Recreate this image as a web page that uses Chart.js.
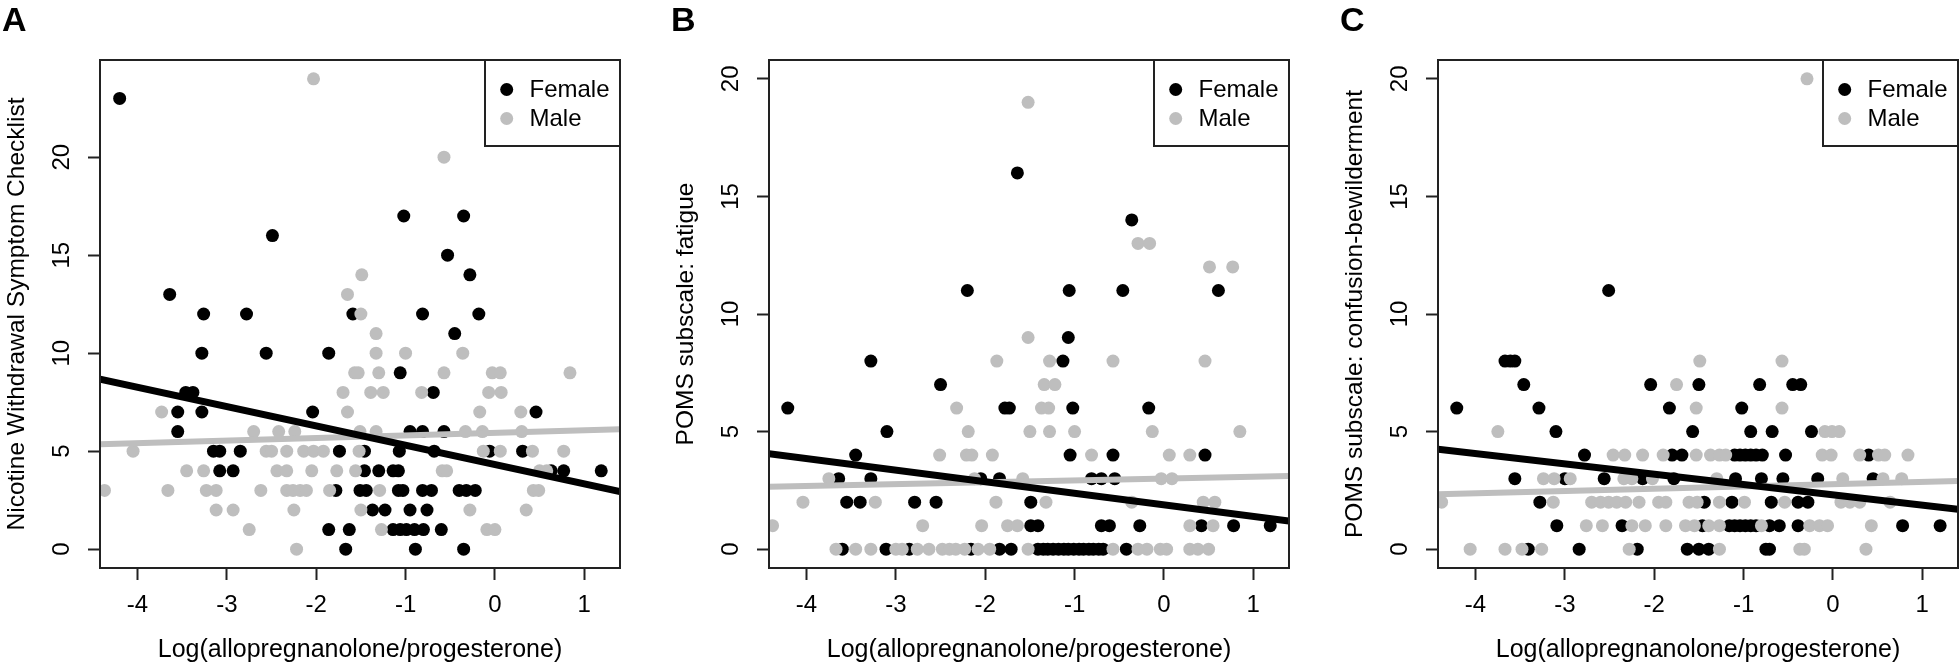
<!DOCTYPE html>
<html>
<head>
<meta charset="utf-8">
<script src="https://cdn.jsdelivr.net/npm/chart.js@4"></script>
<style>
    html, body { margin: 0; padding: 0; background: #fff; overflow: hidden; }
    body { position: relative; width: 1960px; height: 667px; }
    canvas { position: absolute; top: 0; }
</style>
</head>
<body>
<canvas id="chartA" width="660" height="667" style="left:-20px"></canvas>
<canvas id="chartB" width="660" height="667" style="left:649px"></canvas>
<canvas id="chartC" width="660" height="667" style="left:1318px"></canvas>
<script>
// Values: [log ratio, score]
const xTicks = [-4, -3, -2, -1, 0, 1];
const yTicks = [0, 5, 10, 15, 20];
const xTitle = 'Log(allopregnanolone/progesterone)';
const seriesLabels = ['Female', 'Male'];

// A: Nicotine Withdrawal Symptom Checklist
const femaleA = [
    [-4.20, 23], [-2.49, 16], [-3.64, 13], [-3.26, 12], [-2.78, 12], [-1.02, 17], [-0.35, 17], [-0.53, 15], [-0.28, 14],
    [-1.59, 12], [-0.81, 12], [-0.18, 12], [-0.45, 11],
    [-3.28, 10], [-2.56, 10], [-1.86, 10], [-1.06, 9],
    [-3.46, 8], [-3.38, 8], [-0.69, 8],
    [-3.55, 7], [-3.28, 7], [-2.04, 7], [0.46, 7],
    [-3.55, 6], [-0.95, 6], [-0.81, 6], [-0.57, 6],
    [-3.15, 5], [-3.08, 5], [-2.85, 5], [-1.74, 5], [-1.46, 5], [-1.07, 5], [-0.68, 5], [-0.06, 5], [0.31, 5],
    [-3.08, 4], [-2.93, 4], [-1.46, 4], [-1.30, 4], [-1.14, 4], [-1.08, 4], [0.63, 4], [0.77, 4], [1.19, 4],
    [-1.78, 3], [-1.51, 3], [-1.44, 3], [-1.08, 3], [-1.03, 3], [-0.81, 3], [-0.71, 3], [-0.40, 3], [-0.32, 3], [-0.22, 3],
    [-1.37, 2], [-1.23, 2], [-0.95, 2], [-0.76, 2],
    [-1.86, 1], [-1.63, 1], [-1.14, 1], [-1.06, 1], [-0.99, 1], [-0.90, 1], [-0.80, 1], [-0.60, 1],
    [-1.67, 0], [-0.89, 0], [-0.35, 0]
];
const maleA = [
    [-2.03, 24], [-0.57, 20], [-1.49, 14], [-1.65, 13], [-1.50, 12], [-1.33, 11],
    [-1.33, 10], [-1.00, 10], [-0.36, 10],
    [-1.57, 9], [-1.53, 9], [-1.30, 9], [-0.57, 9], [-0.03, 9], [0.06, 9], [0.84, 9],
    [-1.70, 8], [-1.39, 8], [-1.25, 8], [-0.82, 8], [-0.07, 8], [0.07, 8],
    [-3.73, 7], [-1.65, 7], [-0.17, 7], [0.29, 7],
    [-2.70, 6], [-2.42, 6], [-2.24, 6], [-1.51, 6], [-1.33, 6], [-0.33, 6], [-0.14, 6], [0.30, 6],
    [-4.05, 5], [-2.56, 5], [-2.50, 5], [-2.33, 5], [-2.14, 5], [-2.03, 5], [-1.92, 5], [-1.52, 5], [-0.13, 5], [0.06, 5], [0.42, 5], [0.77, 5],
    [-3.45, 4], [-3.26, 4], [-2.44, 4], [-2.33, 4], [-2.05, 4], [-1.77, 4], [-1.56, 4], [-0.59, 4], [-0.54, 4], [0.50, 4], [0.58, 4],
    [-4.37, 3], [-3.66, 3], [-3.23, 3], [-3.12, 3], [-2.62, 3], [-2.33, 3], [-2.26, 3], [-2.18, 3], [-2.11, 3], [-1.85, 3], [-1.29, 3], [0.43, 3], [0.49, 3],
    [-3.12, 2], [-2.93, 2], [-2.25, 2], [-1.50, 2], [-0.28, 2], [0.35, 2],
    [-2.75, 1], [-1.27, 1], [-0.09, 1], [0.00, 1],
    [-2.22, 0]
];
const fitFemaleA = [[-4.42, 8.67], [1.40, 2.94]];
const fitMaleA = [[-4.42, 5.36], [1.40, 6.12]];

// B: POMS fatigue
const femaleB = [
    [-2.20, 11], [-1.64, 16], [-0.36, 14], [-1.06, 11], [-0.46, 11], [0.61, 11], [-1.07, 9],
    [-3.28, 8], [-1.13, 8], [-2.50, 7],
    [-4.21, 6], [-1.78, 6], [-1.73, 6], [-1.02, 6], [-0.17, 6],
    [-3.10, 5],
    [-3.45, 4], [-1.05, 4], [-0.57, 4], [0.46, 4],
    [-3.64, 3], [-3.28, 3], [-2.05, 3], [-1.84, 3], [-0.81, 3], [-0.70, 3], [-0.55, 3],
    [-3.55, 2], [-3.40, 2], [-2.79, 2], [-2.55, 2], [-1.49, 2],
    [-1.49, 1], [-1.41, 1], [-0.70, 1], [-0.61, 1], [-0.27, 1], [0.42, 1], [0.78, 1], [1.19, 1],
    [-3.60, 0], [-3.11, 0], [-2.85, 0], [-2.16, 0], [-1.84, 0], [-1.71, 0], [-1.41, 0], [-1.35, 0], [-1.30, 0], [-1.24, 0],
    [-1.18, 0], [-1.12, 0], [-1.07, 0], [-1.01, 0], [-0.95, 0], [-0.90, 0], [-0.84, 0], [-0.79, 0], [-0.73, 0], [-0.68, 0], [-0.42, 0]
];
const maleB = [
    [-1.52, 19], [-0.29, 13], [-0.16, 13], [0.51, 12], [0.77, 12], [-1.52, 9],
    [-1.87, 8], [-1.28, 8], [-0.57, 8], [0.46, 8],
    [-1.34, 7], [-1.22, 7],
    [-2.32, 6], [-1.37, 6], [-1.29, 6],
    [-2.19, 5], [-1.50, 5], [-1.28, 5], [-1.00, 5], [-0.13, 5], [0.85, 5],
    [-2.51, 4], [-2.21, 4], [-2.15, 4], [-1.92, 4], [-0.81, 4], [0.06, 4], [0.29, 4],
    [-3.75, 3], [-2.12, 3], [-1.58, 3], [-0.03, 3], [0.09, 3],
    [-4.04, 2], [-3.23, 2], [-1.88, 2], [-1.32, 2], [-0.36, 2], [0.44, 2], [0.57, 2],
    [-4.38, 1], [-2.70, 1], [-2.04, 1], [-1.75, 1], [-1.64, 1], [0.29, 1], [0.55, 1],
    [-3.67, 0], [-3.45, 0], [-3.28, 0], [-3.00, 0], [-2.93, 0], [-2.76, 0], [-2.63, 0], [-2.48, 0], [-2.40, 0], [-2.33, 0],
    [-2.23, 0], [-2.08, 0], [-1.95, 0], [-1.52, 0], [-0.57, 0], [-0.29, 0], [-0.19, 0], [-0.04, 0], [0.03, 0], [0.29, 0], [0.38, 0], [0.50, 0]
];
const fitFemaleB = [[-4.42, 4.06], [1.40, 1.20]];
const fitMaleB = [[-4.42, 2.66], [1.40, 3.11]];

// C: POMS confusion-bewilderment
const femaleC = [
    [-2.51, 11],
    [-3.67, 8], [-3.61, 8], [-3.56, 8],
    [-3.46, 7], [-2.04, 7], [-1.50, 7], [-0.82, 7], [-0.45, 7], [-0.36, 7],
    [-4.21, 6], [-3.29, 6], [-1.83, 6], [-1.02, 6],
    [-3.10, 5], [-1.57, 5], [-0.92, 5], [-0.68, 5], [-0.24, 5],
    [-2.78, 4], [-1.80, 4], [-1.69, 4], [-1.10, 4], [-1.04, 4], [-0.98, 4], [-0.92, 4], [-0.86, 4], [-0.79, 4], [-0.53, 4], [0.40, 4],
    [-3.56, 3], [-3.00, 3], [-2.56, 3], [-2.13, 3], [-1.78, 3], [-1.09, 3], [-0.80, 3], [-0.56, 3], [-0.17, 3], [0.45, 3],
    [-3.28, 2], [-1.44, 2], [-1.13, 2], [-0.69, 2], [-0.39, 2], [-0.28, 2],
    [-3.09, 1], [-2.36, 1], [-1.46, 1], [-1.16, 1], [-1.10, 1], [-1.04, 1], [-0.98, 1], [-0.92, 1], [-0.86, 1], [-0.71, 1],
    [-0.60, 1], [-0.39, 1], [0.78, 1], [1.20, 1],
    [-3.41, 0], [-2.84, 0], [-2.19, 0], [-1.63, 0], [-1.50, 0], [-1.39, 0], [-0.75, 0], [-0.71, 0]
];
const maleC = [
    [-0.29, 20],
    [-1.49, 8], [-0.57, 8], [-1.75, 7], [-1.53, 6], [-0.57, 6],
    [-3.75, 5], [-0.09, 5], [-0.01, 5], [0.07, 5],
    [-2.46, 4], [-2.33, 4], [-2.13, 4], [-1.90, 4], [-1.53, 4], [-1.37, 4], [-1.27, 4], [-1.20, 4], [-0.12, 4], [-0.02, 4],
    [0.30, 4], [0.51, 4], [0.58, 4], [0.84, 4],
    [-3.24, 3], [-3.12, 3], [-2.94, 3], [-2.34, 3], [-2.25, 3], [-2.02, 3], [-1.30, 3], [0.11, 3], [0.56, 3], [0.77, 3],
    [-4.38, 2], [-3.13, 2], [-2.70, 2], [-2.60, 2], [-2.51, 2], [-2.42, 2], [-2.32, 2], [-2.17, 2], [-1.95, 2], [-1.87, 2],
    [-1.61, 2], [-1.52, 2], [-1.27, 2], [-0.99, 2], [-0.54, 2], [0.09, 2], [0.19, 2], [0.30, 2], [0.64, 2],
    [-2.76, 1], [-2.58, 1], [-2.25, 1], [-2.10, 1], [-1.87, 1], [-1.65, 1], [-1.55, 1], [-1.39, 1], [-1.27, 1], [-0.80, 1],
    [-0.26, 1], [-0.15, 1], [-0.06, 1], [0.43, 1],
    [-4.06, 0], [-3.67, 0], [-3.48, 0], [-3.26, 0], [-2.28, 0], [-1.27, 0], [-0.37, 0], [-0.32, 0], [0.37, 0]
];
const fitFemaleC = [[-4.42, 4.25], [1.40, 1.70]];
const fitMaleC = [[-4.42, 2.34], [1.40, 2.90]];

const FONT = '"Liberation Sans", Arial, sans-serif';
const BLACK = '#000000';
const GREY = '#bebebe';

Chart.defaults.font.family = FONT;
Chart.defaults.font.size = 24;
Chart.defaults.color = '#000';

const toXY = pts => pts.map(([x, y]) => ({ x: x, y: y }));

// box, rotated y labels, panel letter and legend, drawn the way base R does it
const rFrame = {
    id: 'rFrame',
    afterDraw(chart, args, opts) {
        const { ctx, chartArea: a, scales } = chart;
        ctx.save();
        ctx.strokeStyle = '#222';
        ctx.lineWidth = 2;
        ctx.strokeRect(a.left, a.top, a.right - a.left, a.bottom - a.top);

        ctx.fillStyle = '#000';
        ctx.font = '24px ' + FONT;
        ctx.textAlign = 'center';
        ctx.textBaseline = 'middle';
        scales.y.ticks.forEach(t => {
            ctx.save();
            ctx.translate(a.left - 38, scales.y.getPixelForValue(t.value));
            ctx.rotate(-Math.PI / 2);
            ctx.fillText(String(t.value), 0, 0);
            ctx.restore();
        });

        ctx.font = 'bold 34px ' + FONT;
        ctx.textAlign = 'left';
        ctx.textBaseline = 'alphabetic';
        ctx.fillText(opts.letter, a.left - 98, 31);

        const w = 135, h = 86;
        const lx = a.right - w, ly = a.top;
        ctx.fillStyle = '#fff';
        ctx.fillRect(lx, ly, w, h);
        ctx.strokeRect(lx, ly, w, h);
        ctx.font = '24px ' + FONT;
        ctx.textBaseline = 'middle';
        chart.data.datasets.filter(d => !d.showLine).forEach((d, i) => {
            const cy = ly + 29.5 + i * 29;
            ctx.fillStyle = d.backgroundColor;
            ctx.beginPath();
            ctx.arc(lx + 21.7, cy, 6.5, 0, Math.PI * 2);
            ctx.fill();
            ctx.fillStyle = '#000';
            ctx.fillText(d.label, lx + 44.5, cy + 1);
        });
        ctx.restore();
    }
};

function makePanel(id, letter, yTitle, female, male, fitF, fitM, yMin, yMax) {
    const config = {
        type: 'scatter',
        data: {
            datasets: [
                { label: 'fitF', data: toXY(fitF), showLine: true, borderColor: BLACK, borderWidth: 7, pointRadius: 0, order: 0 },
                { label: 'fitM', data: toXY(fitM), showLine: true, borderColor: GREY, borderWidth: 6, pointRadius: 0, order: 1 },
                { label: seriesLabels[0], data: toXY(female), backgroundColor: BLACK, pointRadius: 6.5, pointBorderWidth: 0, order: 3 },
                { label: seriesLabels[1], data: toXY(male), backgroundColor: GREY, pointRadius: 6.5, pointBorderWidth: 0, order: 2 }
            ]
        },
        options: {
            responsive: false,
            animation: false,
            events: [],
            layout: { padding: { top: 60, right: 20, bottom: 0, left: 0 } },
            scales: {
                x: {
                    type: 'linear',
                    min: -4.42,
                    max: 1.40,
                    afterBuildTicks: s => { s.ticks = xTicks.map(v => ({ value: v })); },
                    afterFit: s => { s.height = 99; },
                    ticks: { padding: 11, color: '#000', font: { size: 24 }, callback: v => String(v) },
                    grid: { drawOnChartArea: false, drawTicks: true, tickLength: 12, tickWidth: 2, tickColor: '#222' },
                    border: { display: false },
                    title: { display: true, text: xTitle, color: '#000', font: { size: 25 }, padding: { top: 0, bottom: 2 } }
                },
                y: {
                    type: 'linear',
                    min: yMin,
                    max: yMax,
                    afterBuildTicks: s => { s.ticks = yTicks.map(v => ({ value: v })); },
                    afterFit: s => { s.width = 120; },
                    ticks: { display: false },
                    grid: { drawOnChartArea: false, drawTicks: true, tickLength: 12, tickWidth: 2, tickColor: '#222' },
                    border: { display: false },
                    title: { display: true, text: yTitle, color: '#000', font: { size: 24.5 }, padding: { top: 22.3, bottom: 0 } }
                }
            },
            plugins: {
                legend: { display: false },
                tooltip: { enabled: false },
                rFrame: { letter: letter }
            }
        },
        plugins: [rFrame]
    };
    return new Chart(document.getElementById(id), config);
}

makePanel('chartA', 'A', 'Nicotine Withdrawal Symptom Checklist', femaleA, maleA, fitFemaleA, fitMaleA, -0.96, 24.96);
makePanel('chartB', 'B', 'POMS subscale: fatigue', femaleB, maleB, fitFemaleB, fitMaleB, -0.8, 20.8);
makePanel('chartC', 'C', 'POMS subscale: confusion-bewilderment', femaleC, maleC, fitFemaleC, fitMaleC, -0.8, 20.8);
</script>
</body>
</html>
